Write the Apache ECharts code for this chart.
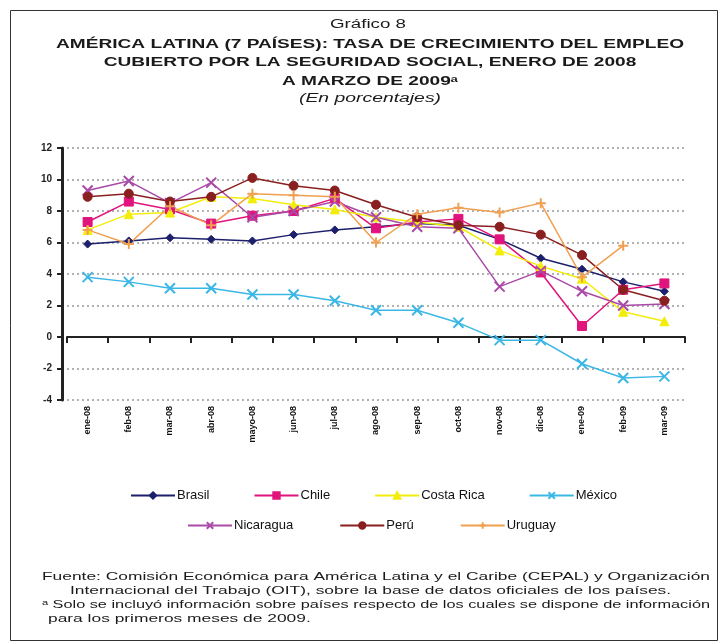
<!DOCTYPE html>
<html>
<head>
<meta charset="utf-8">
<script src="https://cdn.jsdelivr.net/npm/echarts@6/dist/echarts.min.js"></script>
<style>
  html, body { margin: 0; padding: 0; background: #fff; }
  #chart { width: 720px; height: 643px; }
</style>
</head>
<body>
<div id="chart"></div>
<script>
// Months covered, January 2008 to March 2009
const categories = ['ene-08', 'feb-08', 'mar-08', 'abr-08', 'mayo-08', 'jun-08', 'jul-08', 'ago-08',
  'sep-08', 'oct-08', 'nov-08', 'dic-08', 'ene-09', 'feb-09', 'mar-09'];

// Year-on-year growth of employment covered by social security (%)
const brasil    = [5.9, 6.1, 6.3, 6.2, 6.1, 6.5, 6.8, 7.0, 7.2, 7.1, 6.2, 5.0, 4.3, 3.5, 2.9];
const chile     = [7.3, 8.6, 8.1, 7.2, 7.7, 8.0, 8.8, 6.9, 7.3, 7.5, 6.2, 4.1, 0.7, 3.0, 3.4];
const costaRica = [6.8, 7.8, 7.9, 8.9, 8.8, 8.4, 8.1, 7.6, 7.3, 7.0, 5.5, 4.5, 3.7, 1.6, 1.0];
const mexico    = [3.8, 3.5, 3.1, 3.1, 2.7, 2.7, 2.3, 1.7, 1.7, 0.9, -0.2, -0.2, -1.7, -2.6, -2.5];
const nicaragua = [9.3, 9.9, 8.5, 9.8, 7.6, 8.0, 8.6, 7.6, 7.0, 6.9, 3.2, 4.2, 2.9, 2.0, 2.1];
const peru      = [8.9, 9.1, 8.6, 8.9, 10.1, 9.6, 9.3, 8.4, 7.6, 7.1, 7.0, 6.5, 5.2, 3.0, 2.3];
const uruguay   = [6.8, 5.9, 8.3, 7.1, 9.1, 9.0, 8.9, 6.0, 7.8, 8.2, 7.9, 8.5, 3.8, 5.8, null];

const yTicks = { min: -4, max: 12, interval: 2 };

const xPath = 'path://M0,0L10,10M10,0L0,10';
const plusPath = 'path://M5,0L5,10M0,5L10,5';

const seriesDefs = [
  { name: 'Brasil', data: brasil, color: '#1c1f6b', symbol: 'diamond', size: 8 },
  { name: 'Chile', data: chile, color: '#e0147c', symbol: 'rect', size: 9 },
  { name: 'Costa Rica', data: costaRica, color: '#f2ee0a', symbol: 'triangle', size: 9 },
  { name: 'México', data: mexico, color: '#3bb7e6', symbol: xPath, size: 10 },
  { name: 'Nicaragua', data: nicaragua, color: '#a94aa8', symbol: xPath, size: 10 },
  { name: 'Perú', data: peru, color: '#8a1f1f', symbol: 'circle', size: 9 },
  { name: 'Uruguay', data: uruguay, color: '#f0a050', symbol: plusPath, size: 10 }
];

const series = seriesDefs.map(d => {
  const outline = d.symbol.startsWith('path://');
  return {
    name: d.name,
    type: 'line',
    data: d.data,
    symbol: d.symbol,
    symbolSize: d.size,
    connectNulls: false,
    lineStyle: { color: d.color, width: 1.5 },
    itemStyle: outline
      ? { color: 'none', borderColor: d.color, borderWidth: 2 }
      : { color: d.color, borderColor: d.color, borderWidth: 1 },
    emphasis: { disabled: true },
    animation: false
  };
});

const FONT = '"Liberation Sans", Arial, sans-serif';

// Horizontal stretch so a text run spans a given width
const measureCtx = document.createElement('canvas').getContext('2d');
function stretch(text, font, width) {
  measureCtx.font = font;
  return width / measureCtx.measureText(text).width;
}

const TITLE_FONT = 'bold 13px ' + FONT;
const NOTE_FONT = '11.5px ' + FONT;

const titleLines = [
  'AMÉRICA LATINA (7 PAÍSES): TASA DE CRECIMIENTO DEL EMPLEO',
  'CUBIERTO POR LA SEGURIDAD SOCIAL, ENERO DE 2008',
  'A MARZO DE 2009\u1d43'
];
const noteLines = [
  'Fuente: Comisión Económica para América Latina y el Caribe (CEPAL) y Organización',
  'Internacional del Trabajo (OIT), sobre la base de datos oficiales de los países.',
  '\u1d43 Solo se incluyó información sobre países respecto de los cuales se dispone de información',
  'para los primeros meses de 2009.'
];

// One common stretch per block keeps the lines in proportion
const titleScale = stretch(titleLines[0], TITLE_FONT, 628);
const noteScale = stretch(noteLines[0], NOTE_FONT, 668);
const noteScales = [noteScale, noteScale, stretch(noteLines[2], NOTE_FONT, 668), noteScale];

const textGraphics = [];
function addText(text, font, x, y, sx, align) {
  textGraphics.push({
    type: 'text', x: x, y: y, scaleX: sx, silent: true,
    style: { text: text, font: font, fill: '#1a1a1a', textAlign: align, textVerticalAlign: 'middle' }
  });
}
addText('Gráfico 8', '12.5px ' + FONT, 368, 25, stretch('Gráfico 8', '12.5px ' + FONT, 76), 'center');
titleLines.forEach((t, i) => addText(t, TITLE_FONT, 370, 44 + i * 18.5, titleScale, 'center'));
addText('(En porcentajes)', 'italic 12.5px ' + FONT, 370, 99, stretch('(En porcentajes)', 'italic 12.5px ' + FONT, 142), 'center');
const noteLeft = [42, 70, 42, 48];
noteLines.forEach((t, i) => addText(t, NOTE_FONT, noteLeft[i], 577 + i * 13.8, noteScales[i], 'left'));

const chart = echarts.init(document.getElementById('chart'), null, { renderer: 'canvas' });

chart.setOption({
  backgroundColor: '#fff',
  animation: false,
  color: seriesDefs.map(d => d.color),
  textStyle: { fontFamily: FONT },
  legend: [
    {
      data: ['Brasil', 'Chile', 'Costa Rica', 'México'],
      left: 125, top: 484, itemGap: 44, itemWidth: 44, itemHeight: 8,
      textStyle: { fontSize: 13, color: '#111', fontFamily: FONT, padding: [0, 0, 0, -3] },
      selectedMode: false
    },
    {
      data: ['Nicaragua', 'Perú', 'Uruguay'],
      left: 182, top: 514, itemGap: 46, itemWidth: 44, itemHeight: 8,
      textStyle: { fontSize: 13, color: '#111', fontFamily: FONT, padding: [0, 0, 0, -3] },
      selectedMode: false
    }
  ],
  grid: { left: 67, right: 35, top: 148, bottom: 243, containLabel: false },
  xAxis: [
    {
      type: 'category', data: categories, position: 'bottom', boundaryGap: true,
      axisLine: { show: false, onZero: false }, axisTick: { show: false },
      axisLabel: { rotate: 90, fontSize: 9, fontWeight: 'bold', color: '#111', margin: 6, interval: 0, fontFamily: FONT },
      splitLine: { show: false }
    },
    {
      type: 'category', data: categories, position: 'top', boundaryGap: true,
      axisLine: { show: true, onZero: true, lineStyle: { color: '#222', width: 2 } },
      axisTick: { show: true, inside: true, interval: 0, length: 6, lineStyle: { color: '#222', width: 2 } },
      axisLabel: { show: false },
      splitLine: { show: false }
    }
  ],
  yAxis: {
    type: 'value', min: yTicks.min, max: yTicks.max, interval: yTicks.interval,
    offset: 5,
    axisLine: { show: true, lineStyle: { color: '#222', width: 3 } },
    axisTick: { show: true, length: 5, lineStyle: { color: '#222', width: 2 } },
    axisLabel: { fontSize: 10, fontWeight: 'bold', color: '#222', margin: 10, fontFamily: FONT },
    splitLine: { show: true, lineStyle: { color: '#999', type: [2, 3], width: 1.5 } }
  },
  series: series,
  graphic: [
    { type: 'rect', shape: { x: 10.5, y: 10.5, width: 707, height: 630 },
      style: { fill: 'none', stroke: '#333', lineWidth: 1 }, silent: true }
  ].concat(textGraphics)
});
</script>
</body>
</html>
